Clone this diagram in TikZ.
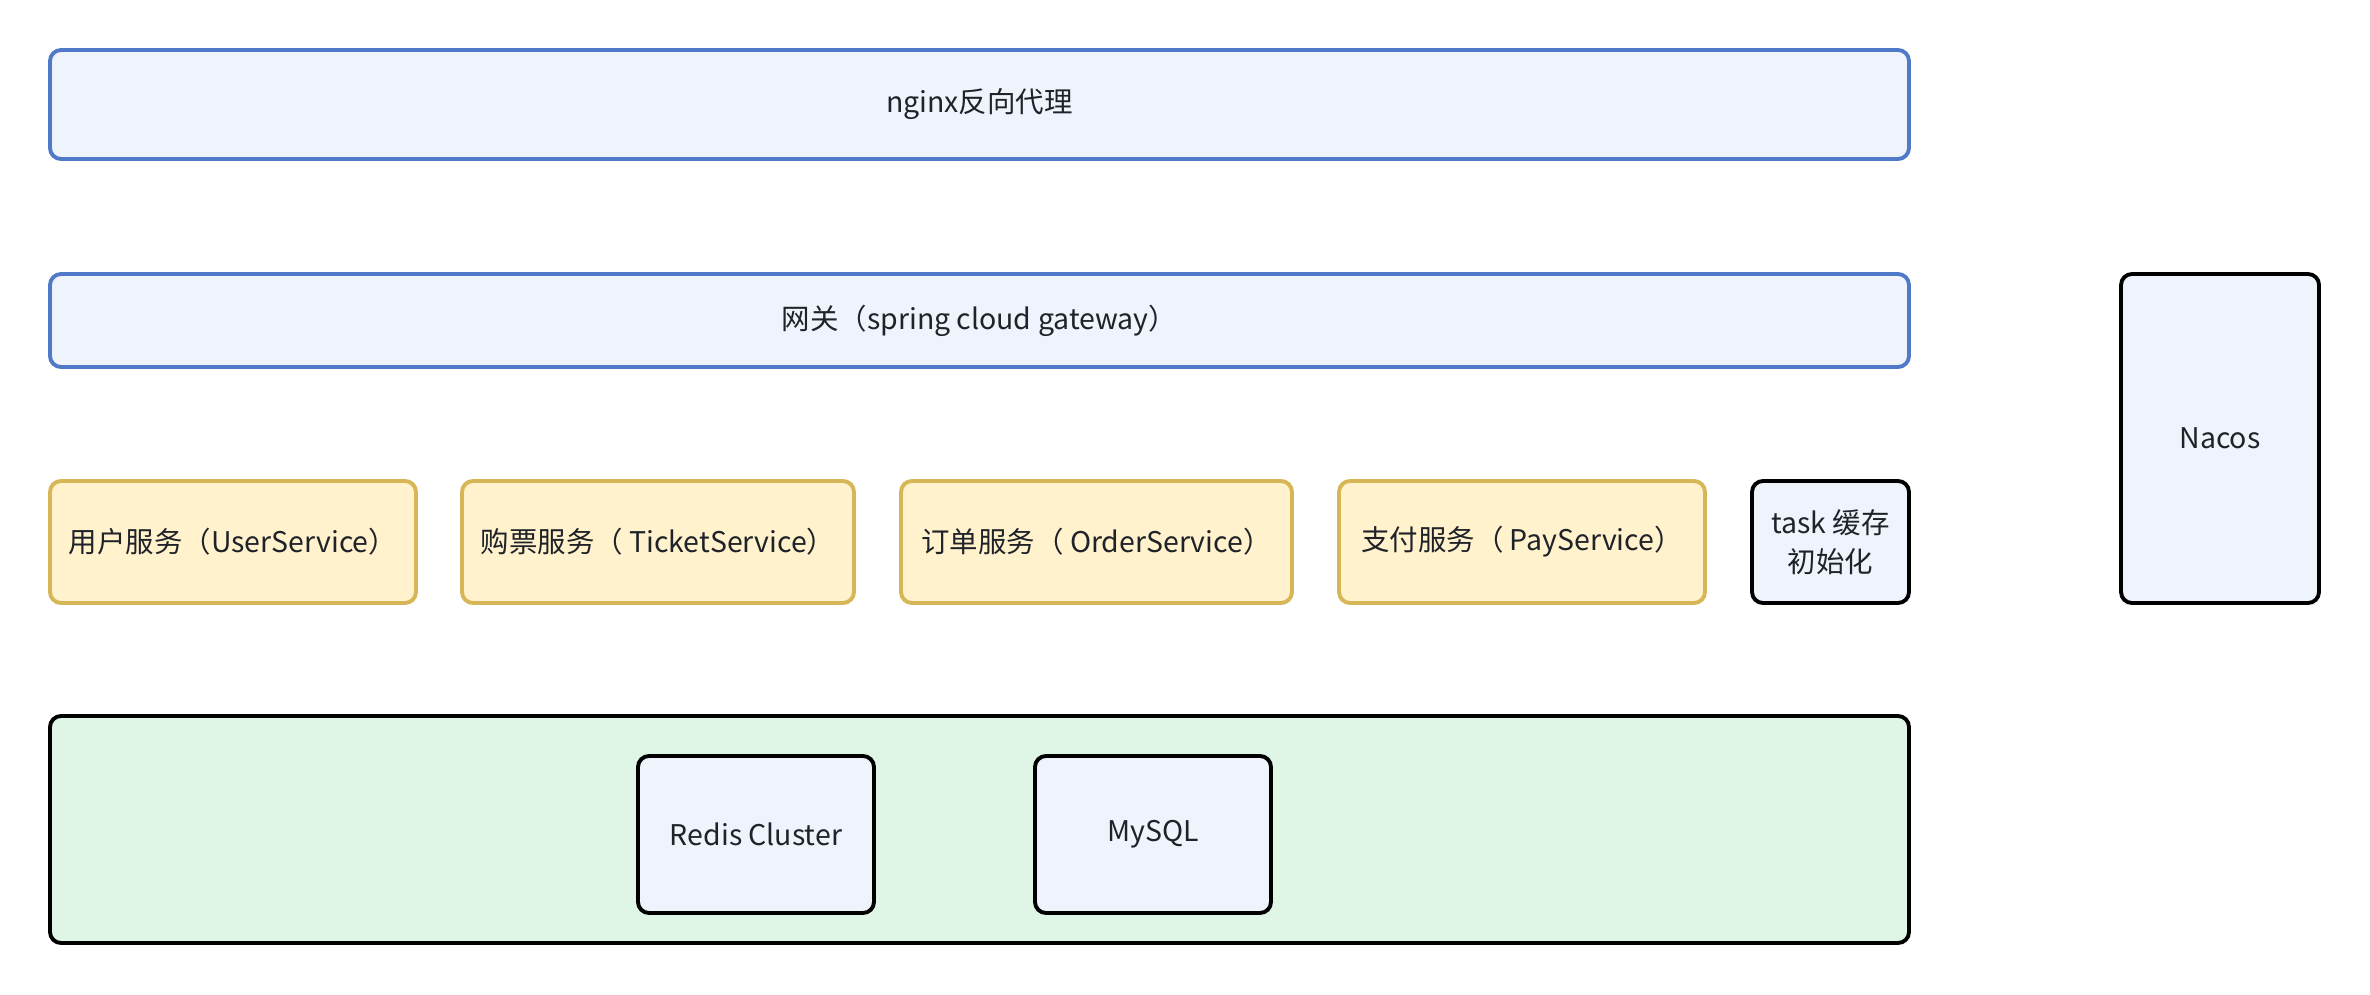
\documentclass[tikz,border=0pt]{standalone}
\usepackage{fontspec}
\setmainfont{Noto Sans CJK SC}
\definecolor{layerblue}{HTML}{5079C9}
\definecolor{layerfill}{HTML}{EEF3FC}
\definecolor{svcline}{HTML}{D6B656}
\definecolor{svcfill}{HTML}{FFF2CC}
\definecolor{storefill}{HTML}{DFF5E5}
\definecolor{textgray}{HTML}{1F2329}
\begin{document}
\begin{tikzpicture}[box/.style={draw=#1,line width=2.2pt,rounded corners=0.22cm,inner sep=0pt,
    text=textgray,font=\fontsize{16.2}{22}\selectfont,align=center},
  layer/.style={box=layerblue,fill=layerfill,minimum width=37.18cm},
  service/.style={box=svcline,fill=svcfill,minimum height=2.44cm},
  plain/.style={box=black,fill=layerfill}]
\useasboundingbox (0,0) rectangle (47.4,19.88);
\node[layer,minimum height=2.18cm] (nginx) at (19.59,17.79) {nginx反向代理};
\node[layer,minimum height=1.86cm] (gateway) at (19.59,13.47) {网关（spring cloud gateway）};
\node[service,minimum width=7.32cm] (user) at (4.66,9.04) {用户服务（UserService）};
\node[service,minimum width=7.84cm] (ticket) at (13.16,9.04) {购票服务（ TicketService）};
\node[service,minimum width=7.82cm] (order) at (21.93,9.04) {订单服务（ OrderService）};
\node[service,minimum width=7.32cm] (pay) at (30.44,9.04) {支付服务（ PayService）};
\node[plain,minimum width=3.14cm,minimum height=2.44cm] (task) at (36.61,9.04) {task 缓存\\初始化};
\node[plain,minimum width=3.96cm,minimum height=6.58cm] (nacos) at (44.4,11.11) {Nacos};
\node[box=black,fill=storefill,minimum width=37.18cm,minimum height=4.54cm] (store) at (19.59,3.29) {};
\node[plain,minimum width=4.72cm,minimum height=3.14cm] (redis) at (15.12,3.19) {Redis Cluster};
\node[plain,minimum width=4.72cm,minimum height=3.14cm] (mysql) at (23.06,3.19) {MySQL};
\end{tikzpicture}
\end{document}
